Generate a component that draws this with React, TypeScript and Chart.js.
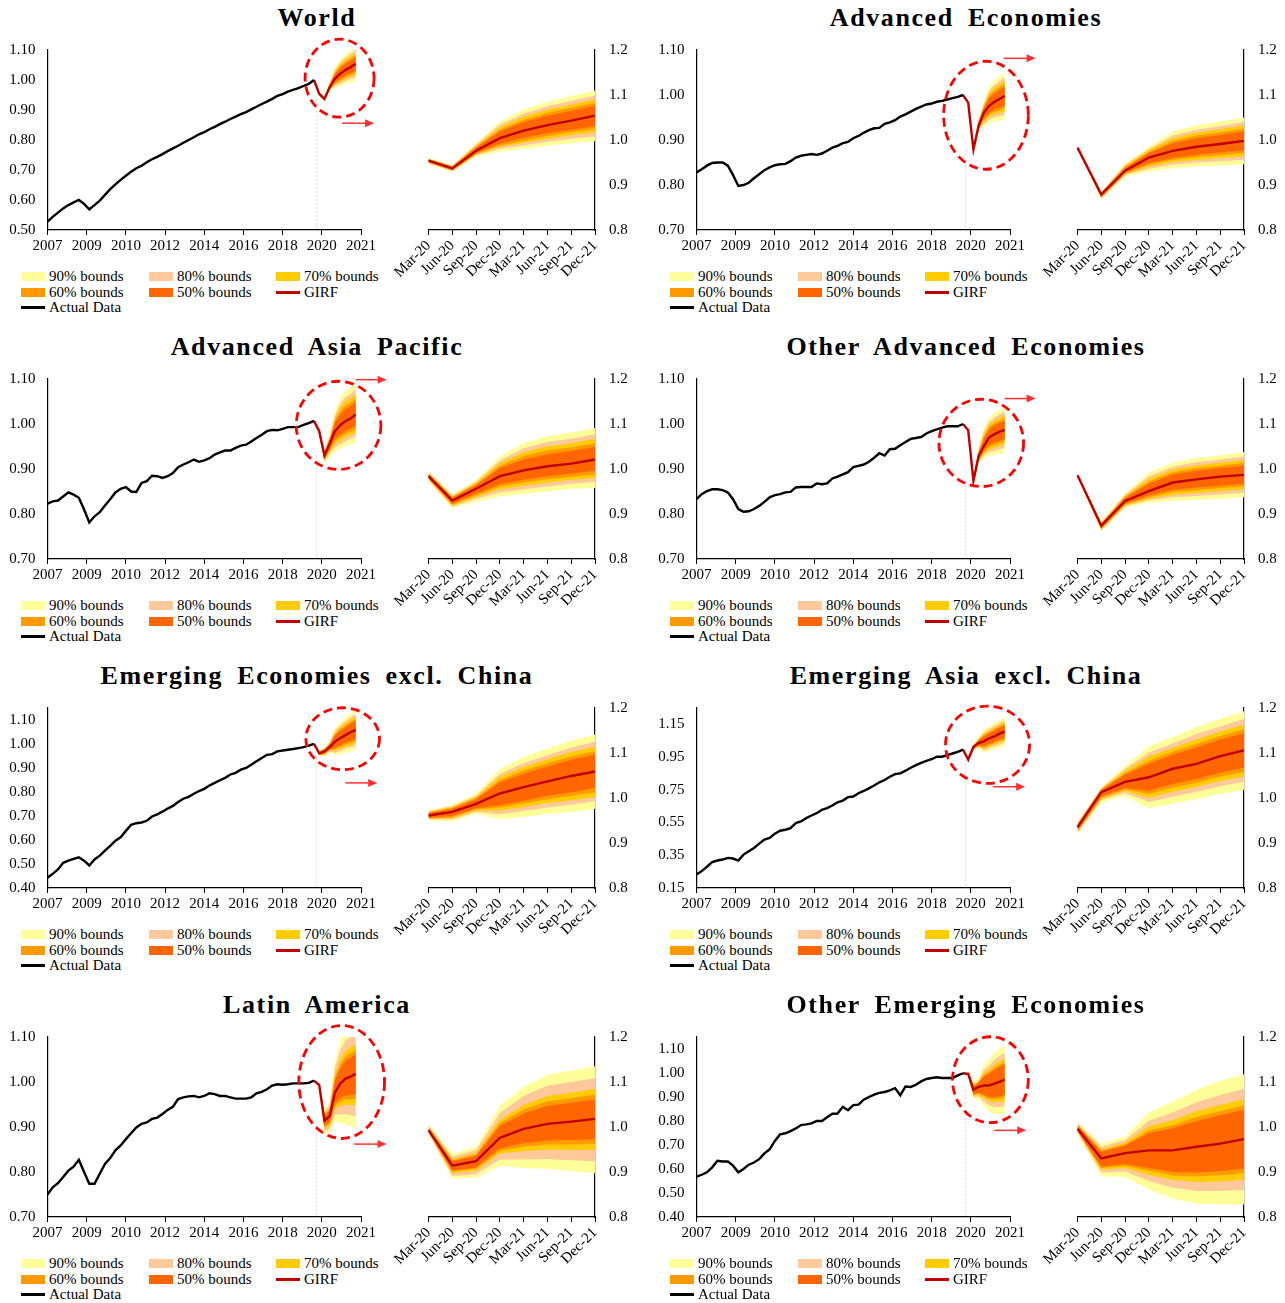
import { useEffect, useRef } from "react"
import { Chart, registerables } from "chart.js"

Chart.register(...registerables)

const FONT = "'Liberation Serif', 'Times New Roman', serif"
Chart.defaults.font.family = FONT
Chart.defaults.font.size = 15
Chart.defaults.color = "#000"

// axis labels
const yearLabels = ["2007", "2009", "2010", "2012", "2014", "2016", "2018", "2020", "2021"]
const quarterLabels = ["Mar-20", "Jun-20", "Sep-20", "Dec-20", "Mar-21", "Jun-21", "Sep-21", "Dec-21"]
const insetTicks = [0.8, 0.9, 1.0, 1.1, 1.2]

const bandNames = ["90% bounds", "80% bounds", "70% bounds", "60% bounds", "50% bounds"]
const bandColors = ["#FFFF99", "#FFC99C", "#FFCC00", "#FF9900", "#FF6600"]
const GIRF_COLOR = "#C00000"

// ---- World ----
const worldActual = [
  0.528, 0.544, 0.558, 0.572, 0.583, 0.592, 0.6, 0.587, 0.569, 0.583,
  0.598, 0.617, 0.636, 0.652, 0.667, 0.681, 0.694, 0.706, 0.714, 0.726,
  0.736, 0.744, 0.753, 0.763, 0.772, 0.781, 0.791, 0.8, 0.809, 0.819,
  0.826, 0.836, 0.844, 0.853, 0.861, 0.87, 0.878, 0.886, 0.893, 0.902,
  0.911, 0.92, 0.928, 0.937, 0.947, 0.953, 0.961, 0.967, 0.973, 0.98,
  0.987, 1.0,
]
const worldGirf = [0.954, 0.937, 0.976, 1.004, 1.021, 1.033, 1.043, 1.054]
const worldHi = [
  [0.96, 0.944, 0.993, 1.041, 1.068, 1.085, 1.098, 1.11],
  [0.959, 0.943, 0.99, 1.034, 1.059, 1.075, 1.087, 1.099],
  [0.958, 0.942, 0.987, 1.028, 1.052, 1.067, 1.079, 1.09],
  [0.957, 0.941, 0.985, 1.023, 1.045, 1.06, 1.072, 1.083],
  [0.956, 0.94, 0.983, 1.019, 1.04, 1.054, 1.065, 1.076],
]
const worldLo = [
  [0.947, 0.929, 0.963, 0.974, 0.98, 0.987, 0.993, 0.997],
  [0.948, 0.931, 0.966, 0.98, 0.988, 0.996, 1.003, 1.008],
  [0.949, 0.932, 0.968, 0.985, 0.994, 1.003, 1.011, 1.017],
  [0.95, 0.933, 0.969, 0.988, 0.998, 1.009, 1.017, 1.024],
  [0.951, 0.934, 0.971, 0.992, 1.005, 1.015, 1.023, 1.031],
]
const worldTicks = [0.5, 0.6, 0.7, 0.8, 0.9, 1.0, 1.1]

// ---- Advanced Economies ----
const advActual = [
  0.828, 0.835, 0.843, 0.849, 0.85, 0.85, 0.843, 0.822, 0.798, 0.8,
  0.805, 0.815, 0.824, 0.833, 0.839, 0.844, 0.846, 0.847, 0.853, 0.861,
  0.865, 0.867, 0.869, 0.867, 0.87, 0.876, 0.883, 0.887, 0.893, 0.896,
  0.904, 0.909, 0.916, 0.922, 0.926, 0.927, 0.936, 0.939, 0.944, 0.952,
  0.957, 0.963, 0.969, 0.974, 0.979, 0.981, 0.985, 0.987, 0.99, 0.993,
  0.996, 1.0,
]
const advGirf = [0.983, 0.879, 0.932, 0.961, 0.976, 0.985, 0.991, 0.998]
const advHi = [
  [0.986, 0.885, 0.948, 0.985, 1.019, 1.033, 1.041, 1.05],
  [0.985, 0.884, 0.945, 0.98, 1.01, 1.023, 1.031, 1.04],
  [0.985, 0.883, 0.942, 0.977, 1.004, 1.016, 1.024, 1.032],
  [0.985, 0.882, 0.94, 0.973, 0.998, 1.01, 1.017, 1.025],
  [0.984, 0.881, 0.938, 0.971, 0.993, 1.004, 1.011, 1.019],
]
const advLo = [
  [0.98, 0.868, 0.919, 0.93, 0.937, 0.941, 0.943, 0.946],
  [0.981, 0.87, 0.922, 0.936, 0.945, 0.95, 0.953, 0.956],
  [0.981, 0.872, 0.924, 0.941, 0.951, 0.956, 0.96, 0.964],
  [0.981, 0.873, 0.925, 0.945, 0.956, 0.962, 0.966, 0.971],
  [0.982, 0.875, 0.927, 0.949, 0.96, 0.967, 0.972, 0.977],
]
const advTicks = [0.7, 0.8, 0.9, 1.0, 1.1]

// ---- Advanced Asia Pacific ----
const aapActual = [
  0.823, 0.828, 0.83, 0.839, 0.848, 0.843, 0.836, 0.81, 0.781, 0.795,
  0.804, 0.819, 0.833, 0.848, 0.856, 0.86, 0.85, 0.849, 0.869, 0.873,
  0.885, 0.884, 0.88, 0.884, 0.891, 0.904, 0.91, 0.915, 0.921, 0.916,
  0.919, 0.924, 0.932, 0.937, 0.941, 0.941, 0.947, 0.952, 0.954, 0.961,
  0.969, 0.976, 0.984, 0.987, 0.986, 0.989, 0.993, 0.993, 0.993, 0.998,
  1.002, 1.007,
]
const aapGirf = [0.984, 0.93, 0.956, 0.984, 0.997, 1.006, 1.012, 1.021]
const aapHi = [
  [0.995, 0.944, 0.976, 1.028, 1.058, 1.073, 1.081, 1.091],
  [0.993, 0.941, 0.972, 1.019, 1.046, 1.06, 1.067, 1.077],
  [0.991, 0.939, 0.969, 1.013, 1.037, 1.05, 1.057, 1.067],
  [0.99, 0.937, 0.966, 1.007, 1.029, 1.041, 1.048, 1.057],
  [0.988, 0.936, 0.964, 1.002, 1.021, 1.033, 1.04, 1.049],
]
const aapLo = [
  [0.973, 0.913, 0.928, 0.939, 0.945, 0.95, 0.956, 0.958],
  [0.975, 0.916, 0.934, 0.948, 0.955, 0.961, 0.967, 0.971],
  [0.977, 0.919, 0.938, 0.955, 0.963, 0.97, 0.976, 0.98],
  [0.978, 0.921, 0.941, 0.961, 0.97, 0.977, 0.983, 0.988],
  [0.98, 0.923, 0.945, 0.966, 0.976, 0.984, 0.99, 0.996],
]

// ---- Other Advanced Economies ----
const oaeActual = [
  0.833, 0.844, 0.851, 0.855, 0.855, 0.853, 0.848, 0.833, 0.811, 0.805,
  0.806, 0.811, 0.818, 0.827, 0.837, 0.842, 0.844, 0.848, 0.849, 0.859,
  0.86, 0.86, 0.86, 0.868, 0.866, 0.868, 0.879, 0.883, 0.888, 0.893,
  0.904, 0.907, 0.91, 0.916, 0.925, 0.935, 0.93, 0.944, 0.945, 0.953,
  0.96, 0.967, 0.969, 0.971, 0.979, 0.984, 0.988, 0.992, 0.995, 0.995,
  0.995, 1.0,
]
const oaeGirf = [0.986, 0.874, 0.929, 0.951, 0.97, 0.977, 0.983, 0.987]
const oaeHi = [
  [0.989, 0.883, 0.946, 0.992, 1.014, 1.025, 1.03, 1.038],
  [0.988, 0.881, 0.943, 0.984, 1.005, 1.015, 1.021, 1.028],
  [0.988, 0.88, 0.94, 0.978, 0.999, 1.008, 1.014, 1.02],
  [0.988, 0.879, 0.938, 0.972, 0.993, 1.002, 1.007, 1.014],
  [0.987, 0.878, 0.936, 0.967, 0.988, 0.996, 1.002, 1.007],
]
const oaeLo = [
  [0.983, 0.861, 0.914, 0.925, 0.929, 0.931, 0.934, 0.937],
  [0.984, 0.864, 0.917, 0.93, 0.937, 0.94, 0.944, 0.947],
  [0.984, 0.866, 0.919, 0.934, 0.943, 0.947, 0.951, 0.955],
  [0.984, 0.867, 0.921, 0.937, 0.949, 0.953, 0.958, 0.961],
  [0.985, 0.869, 0.923, 0.941, 0.954, 0.959, 0.963, 0.967],
]

// ---- Emerging Economies excl. China ----
const eeActual = [
  0.443, 0.459, 0.477, 0.505, 0.514, 0.521, 0.528, 0.514, 0.494, 0.519,
  0.535, 0.556, 0.576, 0.597, 0.611, 0.638, 0.663, 0.67, 0.673, 0.68,
  0.698, 0.707, 0.718, 0.731, 0.742, 0.758, 0.772, 0.78, 0.793, 0.804,
  0.813, 0.827, 0.838, 0.849, 0.859, 0.873, 0.88, 0.893, 0.9, 0.914,
  0.928, 0.942, 0.955, 0.958, 0.969, 0.973, 0.976, 0.979, 0.983, 0.987,
  0.993, 1.001,
]
const eeGirf = [0.961, 0.969, 0.987, 1.01, 1.024, 1.037, 1.049, 1.059]
const eeHi = [
  [0.973, 0.985, 1.01, 1.065, 1.091, 1.11, 1.128, 1.141],
  [0.971, 0.982, 1.005, 1.054, 1.078, 1.095, 1.112, 1.125],
  [0.969, 0.98, 1.002, 1.047, 1.069, 1.086, 1.102, 1.114],
  [0.968, 0.978, 1.0, 1.04, 1.061, 1.077, 1.092, 1.104],
  [0.966, 0.976, 0.997, 1.035, 1.054, 1.07, 1.085, 1.096],
]
const eeLo = [
  [0.95, 0.948, 0.965, 0.953, 0.958, 0.965, 0.969, 0.976],
  [0.952, 0.952, 0.969, 0.964, 0.971, 0.979, 0.985, 0.993],
  [0.954, 0.955, 0.972, 0.972, 0.98, 0.989, 0.995, 1.003],
  [0.955, 0.957, 0.975, 0.979, 0.988, 0.997, 1.005, 1.013],
  [0.956, 0.96, 0.977, 0.984, 0.994, 1.005, 1.013, 1.022],
]
const eeTicks = [0.4, 0.5, 0.6, 0.7, 0.8, 0.9, 1.0, 1.1]

// ---- Emerging Asia excl. China ----
const eaActual = [
  0.233, 0.253, 0.28, 0.308, 0.318, 0.324, 0.334, 0.33, 0.318, 0.354,
  0.375, 0.395, 0.421, 0.446, 0.456, 0.482, 0.5, 0.506, 0.516, 0.547,
  0.557, 0.577, 0.593, 0.607, 0.628, 0.638, 0.654, 0.674, 0.684, 0.705,
  0.709, 0.729, 0.743, 0.759, 0.776, 0.796, 0.81, 0.83, 0.846, 0.85,
  0.867, 0.885, 0.901, 0.915, 0.927, 0.937, 0.952, 0.952, 0.962, 0.972,
  0.982, 0.996,
]
const eaGirf = [0.935, 1.013, 1.036, 1.046, 1.065, 1.076, 1.093, 1.106]
const eaHi = [
  [0.946, 1.024, 1.072, 1.115, 1.135, 1.158, 1.176, 1.193],
  [0.944, 1.022, 1.065, 1.101, 1.121, 1.142, 1.159, 1.176],
  [0.942, 1.02, 1.06, 1.092, 1.111, 1.13, 1.148, 1.163],
  [0.941, 1.019, 1.055, 1.083, 1.103, 1.12, 1.138, 1.153],
  [0.94, 1.018, 1.052, 1.076, 1.096, 1.112, 1.13, 1.144],
]
const eaLo = [
  [0.92, 0.99, 1.005, 0.977, 0.987, 0.998, 1.009, 1.018],
  [0.923, 0.995, 1.011, 0.991, 1.003, 1.014, 1.026, 1.036],
  [0.925, 0.998, 1.016, 1.0, 1.014, 1.025, 1.038, 1.048],
  [0.927, 1.001, 1.019, 1.009, 1.023, 1.034, 1.048, 1.058],
  [0.928, 1.003, 1.022, 1.016, 1.031, 1.042, 1.056, 1.067],
]
const eaTicks = [0.15, 0.35, 0.55, 0.75, 0.95, 1.15]

// ---- Latin America ----
const laActual = [
  0.75, 0.766, 0.775, 0.789, 0.803, 0.812, 0.827, 0.8, 0.774, 0.774,
  0.796, 0.818, 0.831, 0.848, 0.859, 0.873, 0.886, 0.899, 0.907, 0.91,
  0.918, 0.921, 0.929, 0.938, 0.945, 0.962, 0.966, 0.968, 0.969, 0.966,
  0.969, 0.975, 0.973, 0.969, 0.969, 0.966, 0.963, 0.963, 0.963, 0.966,
  0.975, 0.978, 0.984, 0.992, 0.995, 0.994, 0.995, 0.997, 0.997, 0.997,
  0.998, 1.003,
]
const laGirf = [0.993, 0.914, 0.924, 0.976, 0.996, 1.007, 1.012, 1.018]
const laHi = [
  [1.007, 0.94, 0.956, 1.047, 1.089, 1.116, 1.125, 1.135],
  [1.004, 0.934, 0.949, 1.031, 1.069, 1.092, 1.1, 1.109],
  [1.001, 0.929, 0.942, 1.016, 1.049, 1.069, 1.076, 1.085],
  [0.999, 0.926, 0.939, 1.009, 1.039, 1.057, 1.064, 1.072],
  [0.998, 0.924, 0.936, 1.002, 1.03, 1.047, 1.054, 1.061],
]
const laLo = [
  [0.984, 0.885, 0.887, 0.914, 0.909, 0.907, 0.902, 0.897],
  [0.986, 0.891, 0.895, 0.928, 0.928, 0.929, 0.926, 0.924],
  [0.988, 0.897, 0.903, 0.941, 0.946, 0.95, 0.949, 0.949],
  [0.989, 0.901, 0.907, 0.947, 0.956, 0.961, 0.961, 0.962],
  [0.99, 0.903, 0.91, 0.953, 0.964, 0.97, 0.971, 0.973],
]

// ---- Other Emerging Economies ----
const oeActual = [
  0.568, 0.576, 0.586, 0.607, 0.634, 0.631, 0.631, 0.614, 0.586, 0.6,
  0.618, 0.627, 0.641, 0.665, 0.682, 0.717, 0.744, 0.749, 0.758, 0.769,
  0.783, 0.786, 0.79, 0.8, 0.8, 0.816, 0.83, 0.831, 0.859, 0.845,
  0.866, 0.868, 0.889, 0.9, 0.91, 0.917, 0.921, 0.928, 0.937, 0.907,
  0.944, 0.942, 0.951, 0.965, 0.975, 0.979, 0.982, 0.979, 0.979, 0.979,
  0.99, 0.999,
]
const oeGirf = [0.996, 0.93, 0.942, 0.948, 0.948, 0.956, 0.963, 0.973]
const oeHi = [
  [1.011, 0.963, 0.979, 1.033, 1.056, 1.083, 1.102, 1.117],
  [1.008, 0.956, 0.971, 1.014, 1.032, 1.055, 1.071, 1.085],
  [1.005, 0.95, 0.965, 1.001, 1.015, 1.035, 1.049, 1.062],
  [1.004, 0.947, 0.961, 0.992, 1.004, 1.022, 1.035, 1.048],
  [1.003, 0.945, 0.959, 0.986, 0.997, 1.013, 1.026, 1.038],
]
const oeLo = [
  [0.985, 0.89, 0.889, 0.861, 0.841, 0.83, 0.828, 0.828],
  [0.987, 0.899, 0.901, 0.88, 0.865, 0.858, 0.858, 0.86],
  [0.989, 0.905, 0.909, 0.894, 0.882, 0.878, 0.879, 0.883],
  [0.99, 0.909, 0.914, 0.903, 0.892, 0.89, 0.893, 0.898],
  [0.991, 0.912, 0.918, 0.909, 0.9, 0.899, 0.902, 0.908],
]

type Panel = {
  title: string
  actual: number[]
  girf: number[]
  hi: number[][]
  lo: number[][]
  yMin: number
  yMax: number
  yTicks: number[]
  circle: number[] // cx, cy, rx, ry in axis units
  arrow: number[] // x0, x1, y in axis units
}

const panels: Panel[] = [
  { title: "World", actual: worldActual, girf: worldGirf, hi: worldHi, lo: worldLo, yMin: 0.5, yMax: 1.1, yTicks: worldTicks, circle: [55.9, 1.006, 6.6, 0.13], arrow: [56.4, 62.5, 0.856] },
  { title: "Advanced Economies", actual: advActual, girf: advGirf, hi: advHi, lo: advLo, yMin: 0.7, yMax: 1.1, yTicks: advTicks, circle: [55.4, 0.955, 8.1, 0.12], arrow: [58.8, 64.9, 1.0815] },
  { title: "Advanced Asia Pacific", actual: aapActual, girf: aapGirf, hi: aapHi, lo: aapLo, yMin: 0.7, yMax: 1.1, yTicks: advTicks, circle: [55.7, 0.997, 8.1, 0.098], arrow: [59.0, 64.9, 1.0985] },
  { title: "Other Advanced Economies", actual: oaeActual, girf: oaeGirf, hi: oaeHi, lo: oaeLo, yMin: 0.7, yMax: 1.1, yTicks: advTicks, circle: [54.5, 0.958, 8.1, 0.097], arrow: [59.0, 64.9, 1.0565] },
  { title: "Emerging Economies excl. China", actual: eeActual, girf: eeGirf, hi: eeHi, lo: eeLo, yMin: 0.4, yMax: 1.15, yTicks: eeTicks, circle: [56.5, 1.022, 7.05, 0.129], arrow: [57.0, 63.1, 0.838] },
  { title: "Emerging Asia excl. China", actual: eaActual, girf: eaGirf, hi: eaHi, lo: eaLo, yMin: 0.15, yMax: 1.25, yTicks: eaTicks, circle: [55.7, 1.0255, 8.05, 0.236], arrow: [56.7, 62.9, 0.769] },
  { title: "Latin America", actual: laActual, girf: laGirf, hi: laHi, lo: laLo, yMin: 0.7, yMax: 1.1, yTicks: advTicks, circle: [56.3, 1.0, 8.2, 0.1255], arrow: [58.7, 64.9, 0.862] },
  { title: "Other Emerging Economies", actual: oeActual, girf: oeGirf, hi: oeHi, lo: oeLo, yMin: 0.4, yMax: 1.15, yTicks: eeTicks, circle: [56.25, 0.972, 7.25, 0.179], arrow: [57.0, 63.1, 0.761] },
]

function bandDatasets(hi: number[][], lo: number[][], map: (v: number, i: number) => any) {
  const out: any[] = []
  hi.forEach((upper, b) => {
    const order = 10 - b
    out.push({ data: upper.map(map), fill: "+1", backgroundColor: bandColors[b], borderColor: "transparent", borderWidth: 0, pointRadius: 0, order })
    out.push({ data: lo[b].map(map), fill: false, borderColor: "transparent", borderWidth: 0, pointRadius: 0, order })
  })
  return out
}

const axisBorder = { color: "#000", width: 1.2 }

// dashed circle, arrow and faint separator on the main chart
function annotate(p: Panel) {
  return {
    id: "annotate",
    beforeDatasetsDraw(chart: any) {
      const { ctx, scales, chartArea } = chart
      const sx = scales.x.getPixelForValue(p.actual.length - 0.5)
      ctx.save()
      ctx.strokeStyle = "rgba(240,170,140,0.5)"
      ctx.lineWidth = 1
      ctx.setLineDash([2, 2])
      ctx.beginPath()
      ctx.moveTo(sx, scales.y.getPixelForValue(Math.min(...p.girf)))
      ctx.lineTo(sx, chartArea.bottom)
      ctx.stroke()
      ctx.restore()
    },
    afterDraw(chart: any) {
      const { ctx, scales } = chart
      const { x, y } = scales
      const [ex, ey, erx, ery] = p.circle
      const cx = x.getPixelForValue(ex)
      const cy = y.getPixelForValue(ey)
      const rx = x.getPixelForValue(ex + erx) - cx
      const ry = cy - y.getPixelForValue(ey + ery)
      ctx.save()
      ctx.strokeStyle = "#FF0000"
      ctx.lineWidth = 2.8
      ctx.setLineDash([9, 5])
      ctx.beginPath()
      ctx.ellipse(cx, cy, rx, ry, 0, 0, Math.PI * 2)
      ctx.stroke()

      const [ax0, ax1, ay] = p.arrow
      const a0 = x.getPixelForValue(ax0)
      const a1 = x.getPixelForValue(ax1)
      const py = y.getPixelForValue(ay)
      ctx.setLineDash([])
      ctx.strokeStyle = "#FF3030"
      ctx.fillStyle = "#FF3030"
      ctx.lineWidth = 1.5
      ctx.beginPath()
      ctx.moveTo(a0, py)
      ctx.lineTo(a1 - 6, py)
      ctx.stroke()
      ctx.beginPath()
      ctx.moveTo(a1, py)
      ctx.lineTo(a1 - 9, py - 4)
      ctx.lineTo(a1 - 9, py + 4)
      ctx.closePath()
      ctx.fill()
      ctx.restore()
    },
  }
}

function MainChart({ p }: { p: Panel }) {
  const ref = useRef<HTMLCanvasElement>(null)

  useEffect(() => {
    if (!ref.current) return
    const start = p.actual.length
    const toPoint = (v: number, i: number) => ({ x: start + i, y: v })
    const chart = new Chart(ref.current, {
      type: "line",
      data: {
        datasets: [
          { data: p.actual.map((v, i) => ({ x: i, y: v })), borderColor: "#000", borderWidth: 2.4, pointRadius: 0, fill: false, order: 0 },
          { data: [{ x: start - 1, y: p.actual[start - 1] }, ...p.girf.map(toPoint)], borderColor: GIRF_COLOR, borderWidth: 2.4, pointRadius: 0, fill: false, order: 0 },
          ...bandDatasets(p.hi, p.lo, toPoint),
        ],
      },
      options: {
        animation: false,
        responsive: true,
        maintainAspectRatio: false,
        layout: { padding: { top: 50, left: 0, right: 39, bottom: 0 } },
        plugins: { legend: { display: false }, tooltip: { enabled: false } },
        elements: { line: { tension: 0 } },
        scales: {
          x: {
            type: "linear",
            min: 0,
            max: 60,
            afterBuildTicks: (s: any) => {
              s.ticks = yearLabels.map((_, i) => ({ value: i * 7.5 }))
            },
            afterFit: (s: any) => {
              s.height = 32
            },
            ticks: { callback: (_v: any, i: number) => yearLabels[i], autoSkip: false, maxRotation: 0, padding: 2 },
            grid: { drawOnChartArea: false, tickLength: 5, color: "#000" },
            border: axisBorder,
          },
          y: {
            min: p.yMin,
            max: p.yMax,
            afterBuildTicks: (s: any) => {
              s.ticks = p.yTicks.map((v) => ({ value: v }))
            },
            afterFit: (s: any) => {
              s.width = 47.5
            },
            ticks: { callback: (v: any) => Number(v).toFixed(2), padding: 12 },
            grid: { drawOnChartArea: false, drawTicks: false },
            border: axisBorder,
          },
        },
      } as any,
      plugins: [annotate(p)],
    })
    return () => chart.destroy()
  }, [p])

  return (
    <div style={{ position: "absolute", left: 0, top: 0, width: 400, height: 262 }}>
      <canvas ref={ref} />
    </div>
  )
}

function InsetChart({ p }: { p: Panel }) {
  const ref = useRef<HTMLCanvasElement>(null)

  useEffect(() => {
    if (!ref.current) return
    const chart = new Chart(ref.current, {
      type: "line",
      data: {
        labels: quarterLabels,
        datasets: [
          { data: p.girf, borderColor: GIRF_COLOR, borderWidth: 2.4, pointRadius: 0, fill: false, order: 0 },
          ...bandDatasets(p.hi, p.lo, (v) => v),
        ],
      },
      options: {
        animation: false,
        responsive: true,
        maintainAspectRatio: false,
        layout: { padding: { top: 50, left: 48.5, right: 2, bottom: 0 } },
        plugins: { legend: { display: false }, tooltip: { enabled: false } },
        elements: { line: { tension: 0 } },
        scales: {
          x: {
            type: "category",
            offset: false,
            afterFit: (s: any) => {
              s.height = 70
            },
            ticks: { minRotation: 45, maxRotation: 45, autoSkip: false, padding: 2 },
            grid: { drawOnChartArea: false, tickLength: 5, color: "#000", offset: false },
            border: axisBorder,
          },
          y: {
            position: "right",
            min: 0.8,
            max: 1.2,
            afterBuildTicks: (s: any) => {
              s.ticks = insetTicks.map((v) => ({ value: v }))
            },
            afterFit: (s: any) => {
              s.width = 43
            },
            ticks: { callback: (v: any) => Number(v).toFixed(1), padding: 14 },
            grid: { drawOnChartArea: false, drawTicks: false },
            border: axisBorder,
          },
        },
      } as any,
    })
    return () => chart.destroy()
  }, [p])

  return (
    <div style={{ position: "absolute", left: 380, top: 0, width: 260, height: 300 }}>
      <canvas ref={ref} />
    </div>
  )
}

const legendItems = [
  ...bandNames.map((name, i) => ({ name, color: bandColors[i], line: false })),
  { name: "GIRF", color: GIRF_COLOR, line: true },
  { name: "Actual Data", color: "#000", line: true },
]
const legendCols = [21, 149, 276]
const legendRows = [276, 292, 307]

function Legend() {
  return (
    <>
      {legendItems.map((item, i) => (
        <div
          key={item.name}
          style={{
            position: "absolute",
            left: legendCols[i % 3],
            top: legendRows[Math.floor(i / 3)] - 9,
            height: 18,
            display: "flex",
            alignItems: "center",
            font: `15px ${FONT}`,
            whiteSpace: "nowrap",
            color: "#000",
          }}
        >
          <span style={{ display: "inline-block", width: 24, height: item.line ? 3 : 9, background: item.color, marginRight: 4 }} />
          {item.name}
        </div>
      ))}
    </>
  )
}

function PanelView({ p, left, top }: { p: Panel; left: number; top: number }) {
  return (
    <div style={{ position: "absolute", left, top, width: 640, height: 329 }}>
      <div
        style={{
          position: "absolute",
          left: 0,
          top: 3,
          width: 634,
          textAlign: "center",
          font: `bold 26px ${FONT}`,
          letterSpacing: "1.6px",
          wordSpacing: "6px",
          lineHeight: "30px",
          color: "#000",
        }}
      >
        {p.title}
      </div>
      <MainChart p={p} />
      <InsetChart p={p} />
      <Legend />
    </div>
  )
}

export default function App() {
  return (
    <div style={{ position: "absolute", left: 0, top: 0, width: 1285, height: 1303, background: "#fff", overflow: "hidden" }}>
      {panels.map((p, i) => (
        <PanelView key={p.title} p={p} left={(i % 2) * 649} top={Math.floor(i / 2) * 329} />
      ))}
    </div>
  )
}
